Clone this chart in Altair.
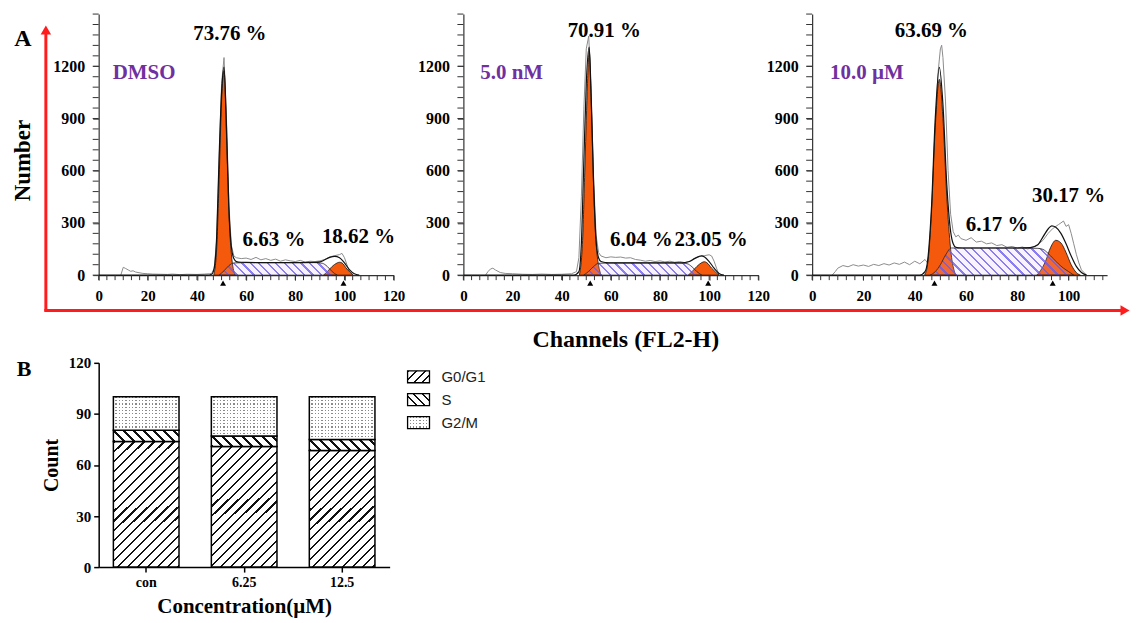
import math
import altair as alt
import pandas as pd

SERIF = "Liberation Serif"
SANS = "Liberation Sans"
ORANGE = "#f55a0c"
PURPLE = "#7030a0"
RED = "#ff1c1c"

# ---------------- Panel A : DMSO ----------------
raw1_x = [9, 10, 11, 12, 13, 14, 15, 16, 18, 20, 22, 25, 28, 30, 33, 36, 40, 43, 45, 46, 47, 48, 49, 50,
          51, 52, 53, 54, 55, 56, 58, 60, 62, 64, 66, 68, 70, 72, 74, 76, 78, 80, 82, 84, 86, 88, 90, 92,
          94, 96, 98, 99, 100, 101, 102, 103]
raw1_y = [0, 45, 38, 30, 22, 25, 18, 15, 10, 8, 6, 5, 4, 6, 3, 5, 4, 6, 8, 10, 40, 200, 650, 1100,
          1250, 900, 400, 170, 110, 100, 95, 98, 90, 102, 88, 95, 85, 92, 80, 88, 82, 78, 85, 75, 80, 78, 82, 90,
          105, 112, 118, 125, 100, 60, 20, 0]
fit1_x = [0, 44, 46, 47, 48, 49, 50, 51, 52, 53, 54, 55, 56, 58, 60, 70, 80, 88, 90, 92, 94, 96, 98, 100, 102, 104, 106]
fit1_y = [0, 0, 5, 40, 220, 680, 1050, 1195, 850, 380, 160, 95, 78, 74, 73, 72, 72, 73, 76, 88, 102, 108, 100, 70, 32, 8, 0]
g1a_x = [46.8, 48, 49, 50, 51, 52, 53, 54, 55.5]
g1a_y = [0, 150, 550, 1000, 1175, 800, 350, 120, 0]
g2a_x = [91.5, 93, 95, 97, 98, 99, 101, 103.6]
g2a_y = [0, 20, 50, 70, 74, 70, 35, 0]
s1_x = [49, 51, 53, 55, 60, 70, 80, 88, 91, 93, 95, 97]
s1_y = [0, 25, 55, 70, 72, 72, 72, 72, 68, 50, 20, 0]
tri1 = [50.6, 99.6]

# ---------------- Panel A : 5.0 nM ----------------
raw2_x = [9, 10, 11, 12, 13, 15, 17, 20, 24, 28, 32, 36, 40, 44, 46, 47, 48, 49, 50, 51, 52, 53,
          54, 55, 56, 58, 60, 62, 64, 66, 68, 70, 72, 74, 76, 78, 80, 82, 84, 86, 88, 90, 92, 94, 96, 98,
          100, 101, 102, 103, 104]
raw2_y = [0, 20, 35, 40, 30, 15, 10, 8, 5, 4, 6, 4, 5, 8, 20, 100, 450, 950, 1300, 1374, 1050, 550,
          230, 130, 110, 100, 105, 102, 104, 98, 100, 90, 86, 80, 84, 78, 82, 76, 80, 74, 78, 72, 80, 95, 108, 112,
          117, 110, 80, 40, 0]
fit2_x = [0, 45, 47, 48, 49, 50, 51.2, 52, 53, 54, 55, 56, 58, 60, 70, 80, 88, 90, 92, 94, 96, 97, 98, 100, 102, 104, 106]
fit2_y = [0, 0, 20, 180, 650, 1100, 1310, 1020, 520, 200, 100, 78, 72, 70, 70, 70, 70, 72, 78, 95, 108, 111, 105, 78, 40, 10, 0]
g1b_x = [47.2, 48.5, 49.5, 50.5, 51.2, 52, 53, 54, 56]
g1b_y = [0, 200, 650, 1100, 1287, 1000, 500, 180, 0]
g2b_x = [91.5, 93, 95, 97, 98, 99, 101, 104]
g2b_y = [0, 20, 50, 72, 77, 72, 40, 0]
s2_x = [49, 51, 53, 55, 60, 70, 80, 88, 91, 93, 95, 97]
s2_y = [0, 22, 50, 68, 70, 70, 70, 70, 66, 48, 20, 0]
tri2 = [51.6, 99.6]

# ---------------- Panel A : 10.0 uM ----------------
raw3_x = [7.8, 9, 10, 12, 14, 16, 18, 20, 22, 24, 26, 28, 30, 32, 34, 36, 38, 40, 42, 44, 45, 46, 47, 48,
          49, 50, 50.5, 51, 52, 53, 54, 55, 56, 57, 58, 60, 62, 64, 66, 68, 70, 72, 74, 76, 78, 80, 82, 84,
          86, 88, 90, 92, 94, 96, 97, 98, 99, 100, 101, 102, 103, 104, 105, 107]
raw3_y = [0, 20, 40, 55, 48, 60, 52, 58, 50, 62, 55, 66, 58, 70, 62, 75, 60, 80, 65, 90, 70, 150, 400, 800,
          1150, 1300, 1321, 1250, 1000, 600, 350, 250, 220, 230, 210, 200, 215, 190, 195, 180, 185, 170, 175, 160, 165, 155, 162, 150,
          160, 175, 200, 240, 270, 290, 300, 311, 280, 290, 240, 180, 120, 70, 30, 0]
fit3_x = [0, 42, 44, 45, 46.5, 48, 49.6, 51, 52.5, 54, 55, 56, 57, 60, 70, 80, 85, 88, 90, 92, 93.4, 95, 97, 99, 101, 103, 105, 107]
fit3_y = [0, 0, 20, 80, 380, 900, 1194, 980, 520, 250, 180, 160, 157, 156, 156, 156, 158, 175, 220, 265, 283, 275, 240, 180, 110, 50, 15, 0]
g1c_x = [43.8, 45, 46.5, 48, 49.6, 51, 52.5, 54, 56]
g1c_y = [0, 60, 350, 850, 1125, 900, 450, 150, 0]
g2c_x = [87.6, 89, 91, 93, 95, 97, 99, 101, 103, 104.6]
g2c_y = [0, 25, 80, 160, 200, 185, 130, 60, 15, 0]
s3_x = [46, 48, 50, 52, 54.3, 60, 70, 80, 88, 90, 92, 94, 96, 98, 100, 102]
s3_y = [0, 20, 60, 115, 156, 156, 156, 156, 154, 148, 125, 95, 65, 40, 20, 0]
tri3 = [47.7, 93.8]

conditions = ["DMSO", "5.0 nM", "10.0 µM"]
g1_pct = ["73.76 %", "70.91 %", "63.69 %"]
s_pct = ["6.63 %", "6.04 %", "6.17 %"]
g2_pct = ["18.62 %", "23.05 %", "30.17 %"]

# ---------------- Panel B ----------------
conc = ["con", "6.25", "12.5"]
phases = ["G0/G1", "S", "G2/M"]
g0g1 = [73.76, 70.91, 68.5]
s_phase = [6.63, 6.04, 6.4]
g2m = [19.61, 23.05, 25.1]

PW = 296      # plot width of a histogram
PH = 262      # plot height of a histogram
BH = 205      # bar plot height
BWID = 292    # bar plot width
BAND = 65.0   # bar width in px


def hatch(w, h, kind, period, frac, fg, bg):
    if kind == "/":
        k = (w + h) / (w * w + h * h)
        x1, y1, x2, y2 = 0, 0, k * w, k * h
        span = (w + h) / math.sqrt(2)
    elif kind == "\\":
        k = (w + h) / (w * w + h * h)
        x1, y1, x2, y2 = 0, 1, k * w, 1 - k * h
        span = (w + h) / math.sqrt(2)
    elif kind == "h":
        x1, y1, x2, y2 = 0, 0, 0, 1
        span = h
    else:
        x1, y1, x2, y2 = 0, 0, 1, 0
        span = w
    n = span / period
    stops = []
    i = 0
    while i / n < 1:
        a = i / n
        b = min(1.0, (i + frac) / n)
        c = min(1.0, (i + 1) / n)
        stops += [{"offset": round(a, 4), "color": fg}, {"offset": round(b, 4), "color": fg},
                  {"offset": round(b, 4), "color": bg}, {"offset": round(c, 4), "color": bg}]
        i += 1
    return {"gradient": "linear", "x1": round(x1, 4), "y1": round(y1, 4),
            "x2": round(x2, 4), "y2": round(y2, 4), "stops": stops}


def xy(xs, ys):
    return pd.DataFrame({"x": xs, "y": ys})


ONE = pd.DataFrame({"k": [0]})


def panel(raw, fit, g1, g2, s, tri, xmax, xvals, width, texts, cond, cond_x, extra=()):
    xs = alt.Scale(domain=[0, xmax], range=[0, PW], nice=False, zero=False)
    ys = alt.Scale(domain=[0, 1500], nice=False)
    common = dict(grid=False, labelFont=SERIF, labelFontWeight="bold", labelColor="black",
                  tickColor="#333", domainColor="#333", domainWidth=1.2, title=None, format="d")
    xa = alt.Axis(values=xvals, labelFontSize=15, labelFlush=False, labelPadding=8, tickSize=5,
                  labelOverlap=False, **common)
    ya = alt.Axis(values=[0, 300, 600, 900, 1200], labelFontSize=16, labelPadding=8, tickSize=6, **common)
    X = alt.X("x:Q", scale=xs, axis=xa)
    Y = alt.Y("y:Q", scale=ys, axis=ya)

    layers = []
    layers.append(alt.Chart(xy(*raw)).mark_line(color="#8c8c8c", strokeWidth=1).encode(x=X, y=Y))
    for g in (g1, g2):
        layers.append(alt.Chart(xy(*g)).mark_area(fill=ORANGE, stroke="#111", strokeWidth=0.8,
                                                  interpolate="monotone").encode(x=X, y=Y))
    sw = (max(s[0]) - min(s[0])) * PW / xmax
    sh = max(s[1]) * PH / 1500
    sfill = hatch(sw, sh, "\\", 6.0, 0.26, "rgba(110,95,235,0.8)", "rgba(215,175,255,0.16)")
    layers.append(alt.Chart(xy(*s)).mark_area(fill=sfill, stroke="#222", strokeWidth=0.8,
                                              interpolate="monotone").encode(x=X, y=Y))
    layers.append(alt.Chart(xy(*fit)).mark_line(color="#111", strokeWidth=1.2,
                                                interpolate="monotone").encode(x=X, y=Y))
    layers.append(alt.Chart(pd.DataFrame({"x": tri})).mark_point(
        shape="triangle-up", filled=True, color="black", size=36, opacity=1).encode(x=X, y=alt.value(PH + 8)))
    nmin = int(xmax * 6 / 20)
    xminor = [round(i * 20 / 6, 3) for i in range(nmin + 1)]
    yminor = list(range(0, 1501, 60))
    layers.append(alt.Chart(pd.DataFrame({"x": xminor})).mark_rule(color="#333", strokeWidth=1).encode(
        x=X, y=alt.value(PH), y2=alt.value(PH + 5)))
    layers.append(alt.Chart(pd.DataFrame({"y": yminor})).mark_rule(color="#333", strokeWidth=1).encode(
        y=Y, x=alt.value(-6), x2=alt.value(0)))
    for txt, tx, ty in texts:
        layers.append(alt.Chart(ONE).mark_text(text=txt, font=SERIF, fontWeight="bold", fontSize=21,
                                               color="black").encode(
            x=alt.XDatum(tx, scale=xs, axis=xa), y=alt.YDatum(ty, scale=ys, axis=ya)))
    layers.append(alt.Chart(ONE).mark_text(text=cond, font=SERIF, fontWeight="bold", fontSize=21,
                                           color=PURPLE, align="left").encode(
        x=alt.XDatum(cond_x, scale=xs, axis=xa), y=alt.YDatum(1162, scale=ys, axis=ya)))
    layers.extend(extra)
    return alt.layer(*layers).properties(width=width, height=PH)


# decorations of panel A (drawn relative to the first panel)
deco = [
    alt.Chart(ONE).mark_text(text="A", font=SERIF, fontWeight="bold", fontSize=24, color="black").encode(
        x=alt.value(-76), y=alt.value(25)),
    alt.Chart(ONE).mark_text(text="Number", font=SERIF, fontWeight="bold", fontSize=23, color="black",
                             angle=270).encode(x=alt.value(-76), y=alt.value(147)),
    alt.Chart(ONE).mark_rule(color=RED, strokeWidth=3).encode(
        x=alt.value(-53), y=alt.value(298.5), y2=alt.value(20)),
    alt.Chart(ONE).mark_point(shape="triangle-up", filled=True, color=RED, size=110, opacity=1).encode(
        x=alt.value(-53), y=alt.value(16)),
    alt.Chart(ONE).mark_rule(color=RED, strokeWidth=3).encode(
        x=alt.value(-54.5), x2=alt.value(1028), y=alt.value(297.5)),
    alt.Chart(ONE).mark_point(shape="triangle-right", filled=True, color=RED, size=110, opacity=1).encode(
        x=alt.value(1030), y=alt.value(297.5)),
    alt.Chart(ONE).mark_text(text="Channels (FL2-H)", font=SERIF, fontWeight="bold", fontSize=24,
                             color="black").encode(x=alt.value(529), y=alt.value(327)),
]

p1 = panel((raw1_x, raw1_y), (fit1_x, fit1_y), (g1a_x, g1a_y), (g2a_x, g2a_y), (s1_x, s1_y), tri1,
           120, [0, 20, 40, 60, 80, 100, 120], PW + 16,
           [(g1_pct[0], 53.4, 1385), (s_pct[0], 71.3, 200), (g2_pct[0], 105.7, 217)],
           conditions[0], 5.7, deco)
p2 = panel((raw2_x, raw2_y), (fit2_x, fit2_y), (g1b_x, g1b_y), (g2b_x, g2b_y), (s2_x, s2_y), tri2,
           120, [0, 20, 40, 60, 80, 100, 120], PW,
           [(g1_pct[1], 57.3, 1402), (s_pct[1], 72.4, 200), (g2_pct[1], 100.8, 200)],
           conditions[1], 6.9)
p3 = panel((raw3_x, raw3_y), (fit3_x, fit3_y), (g1c_x, g1c_y), (g2c_x, g2c_y), (s3_x, s3_y), tri3,
           115, [0, 20, 40, 60, 80, 100], PW,
           [(g1_pct[2], 46.5, 1402), (s_pct[2], 72.1, 286), (g2_pct[2], 100, 452)],
           conditions[2], 7.0)

# ---------------- bar chart ----------------
rows = []
for c, a, b, d in zip(conc, g0g1, s_phase, g2m):
    start = 0.0
    for p, v in zip(phases, (a, b, d)):
        rows.append({"conc": c, "phase": p, "start": start, "end": start + v, "val": v})
        start += v
bars = pd.DataFrame(rows)

PXB = BH / 120
xb = alt.Scale(domain=conc, paddingInner=0.33, paddingOuter=0.15)
yb = alt.Scale(domain=[0, 120], nice=False)
bcommon = dict(grid=False, labelFont=SERIF, labelFontWeight="bold", labelColor="black", tickSize=5,
               tickColor="black", tickWidth=1.5, domainColor="black", domainWidth=1.5,
               titleFont=SERIF, titleFontWeight="bold", titleColor="black")
xba = alt.Axis(title="Concentration(µM)", labelAngle=0, labelFontSize=14, labelPadding=3,
               titleFontSize=21, titlePadding=7, **bcommon)
yba = alt.Axis(title="Count", values=[0, 30, 60, 90, 120], labelFontSize=15, labelPadding=3,
               titleFontSize=20, titlePadding=7, **bcommon)


def fills(kind_phase, w, h, legend=False):
    per = 6.0 if legend else 7.0
    if kind_phase == "G0/G1":
        return [hatch(w, h, "/", per, 0.22, "#111", "white")]
    if kind_phase == "S":
        return [hatch(w, h, "\\", per, 0.24, "#111", "white")]
    return [hatch(w, h, "h", 3.3, 0.33, "#8a8a8a", "white"),
            hatch(w, h, "v", 3.3, 0.6, "white", "rgba(255,255,255,0)")]


blayers = []
for _, r in bars.iterrows():
    fl = fills(r["phase"], BAND, r["val"] * PXB)
    for j, f in enumerate(fl):
        last = j == len(fl) - 1
        mk = dict(fill=f, stroke="black", strokeWidth=1.5) if last else dict(fill=f, strokeWidth=0)
        enc = dict(
            x=alt.X("conc:N", scale=xb, axis=xba, sort=conc),
            y=alt.Y("start:Q", scale=yb, axis=yba),
            y2="end:Q")
        blayers.append(alt.Chart(bars).transform_filter(
            (alt.datum.conc == r["conc"]) & (alt.datum.phase == r["phase"])
        ).mark_bar(**mk).encode(**enc))
blayers.append(alt.Chart(ONE).mark_text(text="B", font=SERIF, fontWeight="bold", fontSize=22,
                                        color="black").encode(x=alt.value(-75), y=alt.value(6)))
bar = alt.layer(*blayers).properties(width=BWID, height=BH)

# legend (its column starts at the second histogram's column)
leg_df = pd.DataFrame({"phase": phases})
ly = alt.Scale(domain=phases, paddingInner=0.478, paddingOuter=0.348)
llayers = []
for p in phases:
    fl = fills(p, 22, 12, legend=True)
    for j, f in enumerate(fl):
        last = j == len(fl) - 1
        mk = dict(fill=f, stroke="black", strokeWidth=1.3) if last else dict(fill=f, strokeWidth=0)
        llayers.append(alt.Chart(leg_df).transform_filter(alt.datum.phase == p).mark_rect(**mk).encode(
            y=alt.Y("phase:N", scale=ly, axis=None), x=alt.value(-56), x2=alt.value(-34)))
llayers.append(alt.Chart(leg_df).mark_text(align="left", font=SANS, fontSize=15, color="#222").encode(
    y=alt.Y("phase:N", scale=ly, axis=None), x=alt.value(-22), text="phase:N"))
legend = alt.layer(*llayers).properties(width=100, height=74)

chart = alt.concat(p1, p2, p3, bar, legend, columns=3, spacing={"row": 88, "column": 54},
                   bounds="flush").properties(
    padding={"left": 4, "top": 4, "right": 2, "bottom": 0}, background="white"
).configure_view(stroke=None)

chart.save("out.html", embed_options={"renderer": "svg", "actions": False})
